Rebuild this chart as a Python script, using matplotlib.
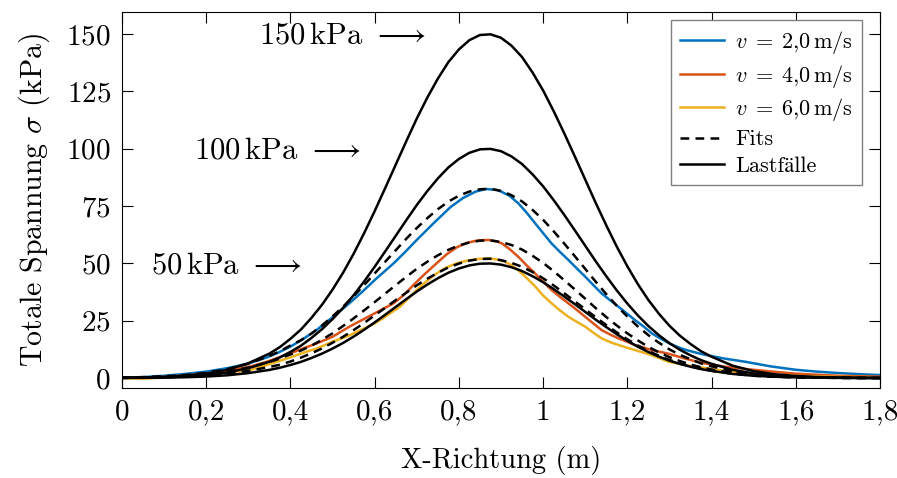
import matplotlib
matplotlib.use("Agg")
import matplotlib.pyplot as plt

plt.rcParams['font.family'] = ['cmr10', 'STIXGeneral']
plt.rcParams['mathtext.fontset'] = 'cm'
plt.rcParams['axes.formatter.use_mathtext'] = True
plt.rcParams['axes.unicode_minus'] = False

# ---- data ----
x_grid = [0.0, 0.05, 0.1, 0.15, 0.2, 0.25, 0.3, 0.35,
          0.375, 0.4, 0.425, 0.45, 0.475, 0.5, 0.525, 0.55, 0.575, 0.6, 0.625, 0.65,
          0.675, 0.7, 0.725, 0.75, 0.775, 0.8, 0.825, 0.85, 0.875, 0.9, 0.925, 0.95,
          0.975, 1.0, 1.025, 1.05, 1.075, 1.1, 1.125, 1.15, 1.175, 1.2, 1.225, 1.25,
          1.275, 1.3, 1.325, 1.35, 1.375,
          1.4, 1.45, 1.5, 1.55, 1.6, 1.65, 1.7, 1.75, 1.8]

load_150 = [0.12, 0.26, 0.53, 1.05, 1.95, 3.6, 6.45, 10.65,
            13.5, 17.1, 21.15, 26.25, 31.95, 38.55, 45.9, 54.15, 63.15, 72.75, 82.8, 93.0,
            103.2, 113.1, 122.25, 130.5, 137.7, 143.25, 147.3, 149.55, 149.85, 148.35,
            144.9, 139.95, 133.2, 125.4, 116.4, 106.8, 96.75, 86.55, 76.35, 66.6, 57.3,
            48.75, 40.95, 34.05, 28.05, 22.8, 18.45, 14.85, 11.7,
            9.3, 5.4, 3.0, 1.65, 0.9, 0.45, 0.21, 0.09, 0.05]
load_100 = [0.08, 0.17, 0.35, 0.7, 1.3, 2.4, 4.3, 7.1,
            9.0, 11.4, 14.1, 17.5, 21.3, 25.7, 30.6, 36.1, 42.1, 48.5, 55.2, 62.0,
            68.8, 75.4, 81.5, 87.0, 91.8, 95.5, 98.2, 99.7, 99.9, 98.9,
            96.6, 93.3, 88.8, 83.6, 77.6, 71.2, 64.5, 57.7, 50.9, 44.4, 38.2,
            32.5, 27.3, 22.7, 18.7, 15.2, 12.3, 9.9, 7.8,
            6.2, 3.6, 2.0, 1.1, 0.6, 0.3, 0.14, 0.06, 0.03]
load_50 = [0.04, 0.09, 0.18, 0.35, 0.65, 1.2, 2.15, 3.55,
           4.5, 5.7, 7.05, 8.75, 10.65, 12.85, 15.3, 18.05, 21.05, 24.25, 27.6, 31.0,
           34.4, 37.7, 40.75, 43.5, 45.9, 47.75, 49.1, 49.85, 49.95, 49.45,
           48.3, 46.65, 44.4, 41.8, 38.8, 35.6, 32.25, 28.85, 25.45, 22.2, 19.1,
           16.25, 13.65, 11.35, 9.35, 7.6, 6.15, 4.95, 3.9,
           3.1, 1.8, 1.0, 0.55, 0.3, 0.15, 0.07, 0.03, 0.015]

fit_1 = [0.21, 0.41, 0.74, 1.32, 2.31, 3.88, 6.27, 9.65,
         11.7, 14.2, 16.5, 19.4, 22.9, 26.9, 31.1, 35.7, 40.5, 45.6, 50.7, 55.7,
         60.7, 65.4, 69.7, 73.6, 76.9, 79.5, 81.3, 82.3, 82.5, 81.6,
         79.7, 77.0, 73.3, 69.0, 64.0, 58.7, 53.2, 47.6, 42.0, 36.6, 31.5,
         26.8, 22.5, 18.7, 15.4, 12.5, 10.1, 8.2, 6.4,
         5.1, 3.0, 1.65, 0.9, 0.5, 0.25, 0.12, 0.05, 0.02]
fit_2 = [0.15, 0.3, 0.54, 0.96, 1.68, 2.82, 4.56, 7.02,
         8.5, 10.3, 12.0, 14.1, 16.7, 19.5, 22.7, 26.0, 29.5, 33.1, 36.8, 40.5,
         44.1, 47.6, 50.7, 53.5, 55.9, 57.8, 59.1, 59.9, 60.0, 59.3,
         58.0, 56.0, 53.3, 50.2, 46.6, 42.7, 38.7, 34.6, 30.5, 26.6, 22.9,
         19.5, 16.4, 13.6, 11.2, 9.1, 7.4, 5.9, 4.7,
         3.7, 2.2, 1.2, 0.66, 0.36, 0.18, 0.08, 0.04, 0.02]
fit_3 = [0.09, 0.18, 0.34, 0.62, 1.09, 1.87, 3.12, 4.84,
         5.8, 7.2, 8.9, 10.8, 12.9, 15.4, 18.0, 20.9, 24.0, 27.3, 30.6, 34.0,
         37.2, 40.4, 43.3, 45.9, 48.2, 49.9, 51.2, 51.9, 52.0, 51.4,
         50.2, 48.5, 46.2, 43.5, 40.4, 37.0, 33.5, 30.0, 26.5, 23.1, 19.9,
         16.9, 14.2, 11.8, 9.7, 7.9, 6.4, 5.1, 4.1,
         3.2, 1.9, 1.0, 0.57, 0.31, 0.16, 0.07, 0.03, 0.02]

x_v2 = [0, 0.05, 0.1, 0.15, 0.2, 0.25, 0.3, 0.344, 0.37, 0.4, 0.43, 0.4625, 0.5, 0.54,
        0.57, 0.6, 0.645, 0.67, 0.7, 0.74, 0.78, 0.81, 0.84, 0.865, 0.89, 0.9, 0.92,
        0.941, 0.96, 0.981, 1.0, 1.02, 1.04, 1.06, 1.08, 1.1, 1.12, 1.139, 1.16, 1.179,
        1.2, 1.218, 1.24, 1.258, 1.28, 1.3, 1.32, 1.34, 1.38, 1.43, 1.48, 1.54, 1.6,
        1.65, 1.7, 1.75, 1.8]
y_v2 = [0, 0.4, 1.0, 1.8, 2.8, 4.3, 6.3, 9.0, 11.0, 13.7, 17.0, 21.0, 26.5, 32.6,
        37.5, 42.7, 50.0, 54.5, 60.2, 67.5, 74.5, 78.5, 81.3, 82.4, 82.0, 81.3, 79.5,
        76.2, 72.3, 67.5, 63.2, 58.7, 55.0, 51.5, 47.8, 44.2, 40.4, 36.9, 33.8, 31.1,
        28.0, 25.3, 22.3, 19.5, 17.1, 15.1, 13.5, 12.2, 10.3, 8.5, 7.1, 5.1, 3.6,
        2.8, 2.2, 1.7, 1.3]

x_v4 = [0, 0.05, 0.1, 0.15, 0.2, 0.25, 0.304, 0.344, 0.4, 0.43, 0.4625, 0.5, 0.54, 0.57,
        0.6, 0.645, 0.668, 0.7, 0.72, 0.747, 0.77, 0.795, 0.82, 0.845, 0.87, 0.89,
        0.902, 0.92, 0.941, 0.96, 0.981, 1.0, 1.02, 1.04, 1.06, 1.08, 1.1, 1.12, 1.139,
        1.16, 1.179, 1.2, 1.218, 1.24, 1.258, 1.298, 1.337, 1.377, 1.43, 1.484, 1.55,
        1.6, 1.7, 1.8]
y_v4 = [0, 0.2, 0.5, 1.1, 2.0, 3.3, 5.0, 7.1, 10.8, 12.9, 15.1, 18.0, 22.4, 25.3,
        28.2, 32.6, 36.0, 42.0, 45.5, 50.0, 53.8, 57.0, 59.0, 60.0, 60.2, 59.6,
        58.7, 56.3, 52.9, 49.3, 45.6, 42.0, 38.4, 35.4, 32.6, 29.7, 26.7, 23.7, 20.9,
        18.9, 17.3, 15.8, 14.4, 13.2, 12.2, 10.6, 8.5, 6.6, 5.0, 3.9, 2.7,
        1.9, 1.0, 0.6]

x_v6 = [0, 0.05, 0.1, 0.15, 0.2, 0.25, 0.304, 0.344, 0.4, 0.43, 0.4625, 0.5, 0.5416,
        0.57, 0.6, 0.621, 0.64, 0.66, 0.68, 0.7, 0.72, 0.747, 0.77, 0.795, 0.82, 0.845,
        0.87, 0.89, 0.91, 0.925, 0.941, 0.96, 0.981, 1.0, 1.02, 1.04, 1.06, 1.08, 1.1,
        1.12, 1.139, 1.16, 1.179, 1.2, 1.218, 1.24, 1.258, 1.28, 1.298, 1.337, 1.38,
        1.416, 1.46, 1.5, 1.6, 1.7, 1.8]
y_v6 = [0, -0.3, 0.2, 0.8, 1.5, 2.4, 3.5, 5.7, 9.0, 11.0, 12.9, 15.8, 18.7,
        21.2, 23.8, 26.2, 28.6, 31.1, 34.7, 38.4, 41.7, 45.6, 48.2, 50.0, 51.2, 51.9,
        52.2, 51.7, 50.7, 49.2, 47.0, 43.8, 40.0, 36.0, 32.6, 29.5, 26.7, 24.5, 22.4,
        19.7, 17.3, 15.6, 14.4, 13.2, 12.2, 11.0, 10.0, 8.4, 7.1, 5.7, 4.5,
        3.5, 2.6, 1.8, 0.9, 0.5, 0.3]

series_labels = [r'$v\;=\;2{,}0\,\mathrm{m/s}$', r'$v\;=\;4{,}0\,\mathrm{m/s}$',
                 r'$v\;=\;6{,}0\,\mathrm{m/s}$', 'Fits', 'Lastf\u00e4lle']
load_labels = ['150', '100', '50']
load_label_x = [0.72, 0.565, 0.428]
load_label_y = [149, 99, 49]

x_ticks = [0, 0.2, 0.4, 0.6, 0.8, 1.0, 1.2, 1.4, 1.6, 1.8]
x_ticklabels = ['0', '0,2', '0,4', '0,6', '0,8', '1', '1,2', '1,4', '1,6', '1,8']
y_ticks = [0, 25, 50, 75, 100, 125, 150]

# ---- plot ----
fig = plt.figure(figsize=(8.97, 4.78), dpi=100)
ax = fig.add_axes([0.136, 0.188, 0.845, 0.787])

lw = 1.8
c_blue, c_orange, c_yellow = '#0072BD', '#D95319', '#EDB120'
h1, = ax.plot(x_v2, y_v2, color=c_blue, lw=lw)
h2, = ax.plot(x_v4, y_v4, color=c_orange, lw=lw)
h3, = ax.plot(x_v6, y_v6, color=c_yellow, lw=lw)
for ld in (load_150, load_100, load_50):
    h5, = ax.plot(x_grid, ld, color='black', lw=lw)
for ft in (fit_1, fit_2, fit_3):
    h4, = ax.plot(x_grid, ft, color='black', lw=lw, dashes=(3.5, 2.5))

for lab, lx, ly in zip(load_labels, load_label_x, load_label_y):
    ax.text(lx, ly, lab + r'$\,$kPa $\longrightarrow$', ha='right', va='center',
            fontsize=22)

ax.set_xlim(0, 1.8)
ax.set_ylim(-4.4, 159.6)
ax.set_xticks(x_ticks)
ax.set_xticklabels(x_ticklabels)
ax.set_yticks(y_ticks)
ax.tick_params(direction='in', top=True, right=True, length=8, width=0.8,
               labelsize=21, pad=8)
for sp in ax.spines.values():
    sp.set_linewidth(0.8)
ax.set_xlabel('X-Richtung (m)', fontsize=20.5, labelpad=15)
ax.set_ylabel(r'Totale Spannung $\sigma$ (kPa)', fontsize=21.5, labelpad=10)

leg = ax.legend([h1, h2, h3, h4, h5], series_labels, loc='upper right',
                bbox_to_anchor=(0.9763, 0.9787), borderaxespad=0.0, fontsize=16,
                frameon=True, fancybox=False, edgecolor='#808080', framealpha=1,
                handlelength=2.0, labelspacing=0.3, borderpad=0.4,
                handletextpad=0.5)
leg.get_frame().set_linewidth(1.0)

fig.savefig('out.png', dpi=100)
